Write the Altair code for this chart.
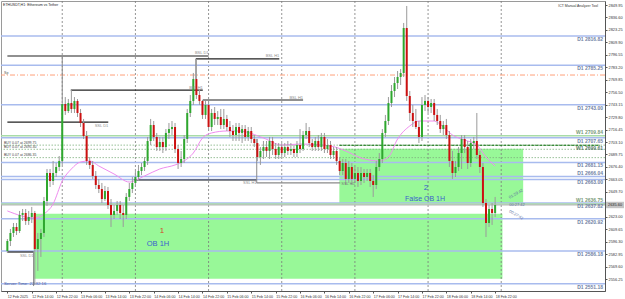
import json
import altair as alt
import pandas as pd

# ---------------- axis labels ----------------
y_ticks = [2849.95, 2836.60, 2823.25, 2809.90, 2796.55, 2783.20, 2769.85, 2756.50,
           2743.15, 2729.80, 2716.45, 2703.10, 2689.75, 2676.40, 2663.05, 2649.70,
           2636.35, 2623.00, 2609.65, 2596.30, 2582.95, 2569.60, 2556.25]
x_labels = ["12 Feb 2025", "12 Feb 14:00", "12 Feb 22:00", "13 Feb 06:00", "13 Feb 14:00",
            "13 Feb 22:00", "14 Feb 06:00", "14 Feb 14:00", "14 Feb 22:00", "15 Feb 06:00",
            "15 Feb 14:00", "15 Feb 22:00", "16 Feb 06:00", "16 Feb 14:00", "16 Feb 22:00",
            "17 Feb 06:00", "17 Feb 14:00", "17 Feb 22:00", "18 Feb 06:00", "18 Feb 14:00",
            "18 Feb 22:00"]
x_label_hours = [0, 8, 16, 24, 32, 40, 48, 56, 64, 72, 80, 88, 96, 104, 112, 120, 128,
                 136, 144, 152, 160]
day_breaks = [18, 42, 66, 90, 114, 138, 162]

# ---------------- H1 candles (hour index 0 = 12 Feb 06:00) ----------------
opens = [2586.3, 2597.0, 2605.6, 2612.0, 2607.7, 2624.9, 2627.0, 2618.4, 2622.7, 2627.0,
         2588.4, 2599.1, 2605.6, 2639.9, 2669.9, 2661.3, 2669.9, 2676.3, 2682.8, 2743.8,
         2736.3, 2744.9, 2738.5, 2747.1, 2734.2, 2723.5, 2709.5, 2682.8, 2678.5, 2666.7,
         2657.0, 2652.7, 2642.0, 2650.6, 2635.6, 2624.9, 2629.2, 2635.6, 2627.0, 2624.9,
         2644.2, 2652.7, 2659.2, 2665.6, 2672.0, 2676.3, 2682.8, 2704.2, 2721.3, 2708.5,
         2697.7, 2703.1, 2697.7, 2712.8, 2717.0, 2719.2, 2695.6, 2680.6, 2684.9, 2706.3,
         2734.2, 2747.1, 2770.6, 2753.5, 2747.1, 2732.1, 2742.8, 2719.2, 2734.2, 2727.8,
         2729.9, 2721.3, 2727.8, 2719.2, 2714.9, 2710.6, 2719.2, 2712.8, 2717.0, 2708.5,
         2714.9, 2706.3, 2702.0, 2687.0, 2693.5, 2697.7, 2693.5, 2704.2, 2695.6, 2689.2,
         2697.7, 2691.3, 2697.7, 2693.5, 2695.6, 2691.3, 2699.9, 2695.6, 2710.6, 2714.9,
         2702.0, 2697.7, 2704.2, 2697.7, 2708.5, 2695.6, 2699.9, 2689.2, 2693.5, 2682.8,
         2672.0, 2680.6, 2663.5, 2676.3, 2663.5, 2669.9, 2661.3, 2669.9, 2665.6, 2669.9,
         2661.3, 2657.0, 2676.3, 2684.9, 2712.8, 2725.6, 2744.9, 2757.8, 2766.3, 2772.8,
         2777.1, 2825.3, 2752.4, 2734.2, 2725.6, 2719.2, 2708.5, 2742.8, 2747.1, 2740.6,
         2744.9, 2732.1, 2725.6, 2717.0, 2721.3, 2710.6, 2682.8, 2669.9, 2676.3, 2691.3,
         2706.3, 2697.7, 2680.6, 2702.0, 2704.2, 2689.2, 2676.3, 2637.7, 2616.3, 2631.3,
         2627.0]
highs = [2599.1, 2609.9, 2616.3, 2616.3, 2629.2, 2631.3, 2631.3, 2629.2, 2633.5, 2629.2,
         2605.6, 2609.9, 2644.2, 2674.2, 2674.2, 2682.8, 2680.6, 2688.1, 2747.1, 2751.3,
         2749.2, 2758.8, 2751.3, 2749.2, 2738.5, 2727.8, 2714.9, 2687.0, 2682.8, 2672.0,
         2663.5, 2659.2, 2656.0, 2654.9, 2642.0, 2635.6, 2639.9, 2639.9, 2635.6, 2648.4,
         2659.2, 2665.6, 2672.0, 2678.5, 2680.6, 2687.0, 2708.5, 2727.8, 2725.6, 2712.8,
         2708.5, 2708.5, 2717.0, 2723.5, 2725.6, 2723.5, 2699.9, 2693.5, 2710.6, 2738.5,
         2753.5, 2777.1, 2792.1, 2759.9, 2748.1, 2747.1, 2747.1, 2738.5, 2740.6, 2736.3,
         2738.5, 2738.5, 2732.1, 2725.6, 2721.3, 2723.5, 2723.5, 2721.3, 2721.3, 2719.2,
         2719.2, 2710.6, 2706.3, 2697.7, 2704.2, 2704.2, 2708.5, 2708.5, 2702.0, 2702.0,
         2702.0, 2702.0, 2704.2, 2702.0, 2699.9, 2704.2, 2717.0, 2714.9, 2723.5, 2719.2,
         2706.3, 2708.5, 2710.6, 2712.8, 2712.8, 2706.3, 2704.2, 2697.7, 2697.7, 2687.0,
         2684.9, 2684.9, 2682.8, 2680.6, 2676.3, 2676.3, 2676.3, 2674.2, 2674.2, 2674.2,
         2667.7, 2682.8, 2691.3, 2717.0, 2732.1, 2751.3, 2764.2, 2772.8, 2779.2, 2781.3,
         2830.7, 2848.9, 2757.8, 2742.8, 2738.5, 2725.6, 2751.3, 2753.5, 2751.3, 2749.2,
         2749.2, 2738.5, 2732.1, 2725.6, 2727.8, 2714.9, 2693.5, 2682.8, 2697.7, 2710.6,
         2710.6, 2704.2, 2706.3, 2708.5, 2734.2, 2693.5, 2680.6, 2642.0, 2635.6, 2637.7,
         2644.2]
lows = [2584.1, 2591.6, 2601.3, 2603.4, 2605.6, 2618.4, 2614.2, 2614.2, 2616.3, 2549.8,
        2564.9, 2579.9, 2601.3, 2634.5, 2654.9, 2657.0, 2665.6, 2672.0, 2678.5, 2732.1,
        2734.2, 2734.2, 2734.2, 2729.9, 2719.2, 2706.3, 2678.5, 2674.2, 2663.5, 2652.7,
        2648.4, 2637.7, 2639.9, 2631.3, 2612.0, 2620.6, 2624.9, 2620.6, 2612.0, 2620.6,
        2639.9, 2648.4, 2654.9, 2661.3, 2667.7, 2672.0, 2678.5, 2699.9, 2704.2, 2693.5,
        2693.5, 2691.3, 2693.5, 2706.3, 2710.6, 2691.3, 2674.2, 2676.3, 2680.6, 2702.0,
        2729.9, 2742.8, 2749.2, 2742.8, 2727.8, 2727.8, 2714.9, 2714.9, 2721.3, 2721.3,
        2717.0, 2717.0, 2714.9, 2708.5, 2704.2, 2704.2, 2704.2, 2702.0, 2704.2, 2704.2,
        2702.0, 2697.7, 2682.8, 2678.5, 2684.9, 2687.0, 2684.9, 2689.2, 2684.9, 2684.9,
        2687.0, 2687.0, 2689.2, 2689.2, 2687.0, 2687.0, 2691.3, 2693.5, 2706.3, 2697.7,
        2693.5, 2693.5, 2693.5, 2693.5, 2691.3, 2691.3, 2684.9, 2684.9, 2678.5, 2667.7,
        2667.7, 2657.0, 2659.2, 2657.0, 2659.2, 2654.9, 2657.0, 2659.2, 2661.3, 2654.9,
        2644.2, 2652.7, 2672.0, 2680.6, 2708.5, 2721.3, 2740.6, 2751.3, 2759.9, 2764.2,
        2772.8, 2747.1, 2725.6, 2719.2, 2717.0, 2702.0, 2704.2, 2736.3, 2734.2, 2734.2,
        2725.6, 2721.3, 2712.8, 2710.6, 2706.3, 2676.3, 2663.5, 2665.6, 2672.0, 2674.2,
        2691.3, 2674.2, 2676.3, 2695.6, 2684.9, 2669.9, 2633.5, 2601.3, 2612.0, 2614.2,
        2622.7]
closes = [2597.0, 2605.6, 2612.0, 2607.7, 2624.9, 2627.0, 2618.4, 2622.7, 2627.0, 2588.4,
          2599.1, 2605.6, 2639.9, 2669.9, 2661.3, 2669.9, 2676.3, 2682.8, 2743.8, 2736.3,
          2744.9, 2738.5, 2747.1, 2734.2, 2723.5, 2709.5, 2682.8, 2678.5, 2666.7, 2657.0,
          2652.7, 2642.0, 2650.6, 2635.6, 2624.9, 2629.2, 2635.6, 2627.0, 2624.9, 2644.2,
          2652.7, 2659.2, 2665.6, 2672.0, 2676.3, 2682.8, 2704.2, 2721.3, 2708.5, 2697.7,
          2703.1, 2697.7, 2712.8, 2717.0, 2719.2, 2695.6, 2680.6, 2684.9, 2706.3, 2734.2,
          2747.1, 2770.6, 2753.5, 2747.1, 2732.1, 2742.8, 2719.2, 2734.2, 2727.8, 2729.9,
          2721.3, 2727.8, 2719.2, 2714.9, 2710.6, 2719.2, 2712.8, 2717.0, 2708.5, 2714.9,
          2706.3, 2702.0, 2687.0, 2693.5, 2697.7, 2693.5, 2704.2, 2695.6, 2689.2, 2697.7,
          2691.3, 2697.7, 2693.5, 2695.6, 2691.3, 2699.9, 2695.6, 2710.6, 2714.9, 2702.0,
          2697.7, 2704.2, 2697.7, 2708.5, 2695.6, 2699.9, 2689.2, 2693.5, 2682.8, 2672.0,
          2680.6, 2663.5, 2676.3, 2663.5, 2669.9, 2661.3, 2669.9, 2665.6, 2669.9, 2661.3,
          2657.0, 2676.3, 2684.9, 2712.8, 2725.6, 2744.9, 2757.8, 2766.3, 2772.8, 2777.1,
          2825.3, 2752.4, 2734.2, 2725.6, 2719.2, 2708.5, 2742.8, 2747.1, 2740.6, 2744.9,
          2732.1, 2725.6, 2717.0, 2721.3, 2710.6, 2682.8, 2669.9, 2676.3, 2691.3, 2706.3,
          2697.7, 2680.6, 2702.0, 2704.2, 2689.2, 2676.3, 2637.7, 2616.3, 2631.3, 2627.0,
          2635.6]

# ---------------- moving average (read at sample bars) ----------------
ma_hours = [0, 9, 12, 15, 18, 21, 24, 27, 30, 35, 40, 45, 50, 55, 58, 61, 64, 67, 72, 76,
            84, 90, 96, 106, 111, 116, 122, 125, 128, 132, 135, 140, 143, 146, 150, 154,
            157, 160]
ma_values = [2629.2, 2621.7, 2626.0, 2636.7, 2661.3, 2674.2, 2681.7, 2682.8, 2677.4,
             2668.8, 2660.2, 2666.7, 2674.2, 2678.5, 2682.8, 2691.3, 2707.4, 2712.8,
             2714.9, 2714.9, 2707.4, 2699.9, 2700.9, 2698.8, 2693.5, 2686.0, 2682.8,
             2687.0, 2706.3, 2720.3, 2725.6, 2725.6, 2719.2, 2710.6, 2705.2, 2699.9,
             2687.0, 2677.4]

# ---------------- levels ----------------
d1_prices = [2816.82, 2785.25, 2743.00, 2707.65, 2681.15, 2666.04, 2663.00, 2637.82,
             2620.92, 2586.18, 2551.18]
d1_names = ["D1 2816.82", "D1 2785.25", "D1 2743.00", "D1 2707.65", "D1 2681.15",
            "D1 2666.04", "D1 2663.00", "D1 2637.82", "D1 2620.92", "D1 2586.18",
            "D1 2551.18"]
d1_names_above = ["D1 2666.04"]
w1_light_prices = [2709.84, 2636.75]
w1_light_names = ["W1 2709.84", "W1 2636.75"]
w1_main_price = [2699.61]
w1_main_name = ["W1 2699.61"]
w1_main_start = [108.9]
w1_main_end = [194.4]
sp_price = [2774.9]
buy_prices = [2699.75, 2695.30, 2686.35]
buy_names = ["BUY 0.07 at 2699.75", "BUY 0.07 at 2695.30", "BUY 0.07 at 2686.35"]

# liquidity lines
liq_names = ["BSL D1", "BSL H1", "BSL H1", "BSL H1"]
liq_price = [2795.3, 2792.1, 2758.8, 2748.1]
liq_start = [0.0, 61.8, 20.8, 64.1]
liq_end = [66.0, 89.2, 64.1, 97.0]
ssl_names = ["SSL D1", "SSL H1", "SSL D1"]
ssl_price = [2724.5, 2662.4, 2585.2]
ssl_start = [0.0, 41.5, 0.0]
ssl_end = [33.1, 81.8, 8.6]
# grey sweep connectors
sweep_h_name = ["SSL H1"]
sweep_h_price = [2659.2]
sweep_h_start = [81.8]
sweep_h_end = [109.2]
sweep_v_hour = [81.8, 18.0, 8.6, 61.8]
sweep_v_top = [2706.3, 2795.3, 2585.2, 2792.1]
sweep_v_bot = [2659.2, 2747.1, 2548.7, 2770.6]

# order blocks
ob_start = [8.6, 108.9]
ob_end = [162.4, 169.2]
ob_top = [2626.2, 2695.9]
ob_bottom = [2556.6, 2637.7]

bid_price = [2635.6]
bid_text = ["2635.60"]

# ---------------- frames ----------------
candles = pd.DataFrame({"h": list(range(len(closes))), "o": opens, "hi": highs,
                        "lo": lows, "c": closes})
ma = pd.DataFrame({"h": ma_hours, "v": ma_values})
d1 = pd.DataFrame({"p": d1_prices, "t": d1_names})
d1_below = d1[~d1["t"].isin(d1_names_above)]
d1_above = d1[d1["t"].isin(d1_names_above)]
w1l = pd.DataFrame({"p": w1_light_prices, "t": w1_light_names})
w1m = pd.DataFrame({"p": w1_main_price, "t": w1_main_name, "a": w1_main_start, "b": w1_main_end})
buy = pd.DataFrame({"p": buy_prices, "t": buy_names})
bsl = pd.DataFrame({"t": liq_names, "p": liq_price, "a": liq_start, "b": liq_end})
ssl = pd.DataFrame({"t": ssl_names, "p": ssl_price, "a": ssl_start, "b": ssl_end})
swh = pd.DataFrame({"t": sweep_h_name, "p": sweep_h_price, "a": sweep_h_start, "b": sweep_h_end})
swv = pd.DataFrame({"h": sweep_v_hour, "p1": sweep_v_top, "p2": sweep_v_bot})
obs = pd.DataFrame({"a": ob_start, "b": ob_end, "t": ob_top, "bt": ob_bottom})
days = pd.DataFrame({"h": day_breaks})
bid = pd.DataFrame({"p": bid_price, "t": bid_text})
sp = pd.DataFrame({"p": sp_price})

FONT = "Liberation Sans"
W, H = 604, 290
xs = alt.Scale(domain=[-0.45, 194.4], nice=False, zero=False)
ys = alt.Scale(domain=[2543.4, 2854.24], nice=False, zero=False)
label_expr = json.dumps(x_labels) + "[round(datum.value/8)]"
xaxis = alt.Axis(values=x_label_hours, labelExpr=label_expr, title=None, grid=False,
                 labelFontSize=3.6, labelAlign="left", labelPadding=1, tickSize=2,
                 labelColor="#333333", domainColor="#555555", tickColor="#555555",
                 labelFlush=False, labelOverlap=False, labelBaseline="top", labelFont=FONT)
yaxis = alt.Axis(values=y_ticks, format=".2f", title=None, grid=False, orient="right",
                 labelFontSize=3.9, labelPadding=1, tickSize=2, labelColor="#333333",
                 domainColor="#555555", tickColor="#555555", labelFlush=False,
                 labelOverlap=False, labelFont=FONT)


def X(f):
    return alt.X(f, type="quantitative", scale=xs, axis=xaxis)


def Y(f):
    return alt.Y(f, type="quantitative", scale=ys, axis=yaxis)


layers = []
# order blocks
layers.append(alt.Chart(obs).mark_rect(color="#98f898").encode(
    x=X("a"), x2="b", y=Y("t"), y2="bt"))
# day separators
layers.append(alt.Chart(days).mark_rule(color="#7a7a7a", strokeDash=[2, 2], strokeWidth=0.8)
              .encode(x=X("h")))
# D1 levels
layers.append(alt.Chart(d1).mark_rule(color="#a8bbee", strokeWidth=1.5).encode(y=Y("p")))
layers.append(alt.Chart(w1l).mark_rule(color="#a8dca8", strokeWidth=1.5).encode(y=Y("p")))
# sp line
layers.append(alt.Chart(sp).mark_rule(color="#ffa07a", strokeWidth=1, strokeDash=[5, 2, 1, 2])
              .encode(y=Y("p")))
# buy lines
layers.append(alt.Chart(buy).mark_rule(color="#7fb07f", strokeWidth=0.8, strokeDash=[1.5, 1.5])
              .encode(y=Y("p")))
# W1 main
layers.append(alt.Chart(w1m).mark_rule(color="#0a6e0a", strokeWidth=1.2, strokeDash=[3, 1])
              .encode(x=X("a"), x2="b", y=Y("p")))
# bid line
layers.append(alt.Chart(bid).mark_rule(color="#b0b0b0", strokeWidth=1).encode(y=Y("p")))
# liquidity lines
layers.append(alt.Chart(bsl).mark_rule(color="#222222", strokeWidth=1.2)
              .encode(x=X("a"), x2="b", y=Y("p")))
layers.append(alt.Chart(ssl).mark_rule(color="#222222", strokeWidth=1.2)
              .encode(x=X("a"), x2="b", y=Y("p")))
layers.append(alt.Chart(swh).mark_rule(color="#8a8a8a", strokeWidth=1.2)
              .encode(x=X("a"), x2="b", y=Y("p")))
layers.append(alt.Chart(swv).mark_rule(color="#8a8a8a", strokeWidth=1)
              .encode(x=X("h"), y=Y("p1"), y2="p2"))
# MA
layers.append(alt.Chart(ma).mark_line(color="#ef8cef", strokeWidth=1, interpolate="monotone")
              .encode(x=X("h"), y=Y("v")))
# candles
layers.append(alt.Chart(candles).mark_rule(color="#9a9a9a", strokeWidth=1)
              .encode(x=X("h"), y=Y("lo"), y2="hi"))
layers.append(alt.Chart(candles).mark_bar(size=2).encode(
    x=X("h"), y=Y("o"), y2="c",
    color=alt.condition("datum.c >= datum.o", alt.value("#2ea82e"), alt.value("#cc1010"))))

# labels
lvl_style = dict(align="right", fontSize=5, fontWeight="bold", font=FONT)
layers.append(alt.Chart(d1_below).mark_text(baseline="top", dy=1, color="#7282a4", **lvl_style)
              .encode(x=alt.value(602), y=Y("p"), text="t"))
layers.append(alt.Chart(d1_above).mark_text(baseline="bottom", dy=-0.6, color="#7282a4",
                                             **lvl_style)
              .encode(x=alt.value(602), y=Y("p"), text="t"))
layers.append(alt.Chart(w1l).mark_text(baseline="bottom", dy=-0.6, color="#7a9a7a", **lvl_style)
              .encode(x=alt.value(602), y=Y("p"), text="t"))
layers.append(alt.Chart(w1m).mark_text(baseline="top", dy=1, color="#5a7a6a", **lvl_style)
              .encode(x=alt.value(602), y=Y("p"), text="t"))
layers.append(alt.Chart(buy).mark_text(align="left", baseline="bottom", dy=-0.3, fontSize=3.5,
                                        color="#444444", font=FONT)
              .encode(x=alt.value(3), y=Y("p"), text="t"))
layers.append(alt.Chart(bsl).mark_text(align="right", baseline="bottom", dy=-0.5, fontSize=4,
                                        color="#8d8d8d", font=FONT)
              .encode(x=X("b"), y=Y("p"), text="t"))
layers.append(alt.Chart(ssl).mark_text(align="right", baseline="top", dy=1.5, fontSize=4,
                                        color="#8d8d8d", font=FONT)
              .encode(x=X("b"), y=Y("p"), text="t"))
layers.append(alt.Chart(swh).mark_text(align="left", baseline="top", dy=-1, dx=1, fontSize=4,
                                        color="#777777", font=FONT)
              .encode(x=X("b"), y=Y("p"), text="t"))
layers.append(alt.Chart(sp).mark_text(align="left", baseline="bottom", dy=-0.5, fontSize=3.6,
                                       color="#555555", font=FONT)
              .encode(x=alt.value(3), y=Y("p"), text=alt.value("Sp")))

# bid tag on the axis
layers.append(alt.Chart(bid).mark_rect(color="#c4c4c4", yOffset=-3.2, y2Offset=3.2)
              .encode(x=alt.value(605), x2=alt.value(623), y=Y("p"), y2="p"))
layers.append(alt.Chart(bid).mark_text(align="left", baseline="middle", fontSize=3.9,
                                        color="#222222", font=FONT)
              .encode(x=alt.value(607), y=Y("p"), text="t"))


def note(txt, x, y, size, color, **kw):
    return alt.Chart(pd.DataFrame({"t": [txt]})).mark_text(
        fontSize=size, color=color, font=FONT, **kw).encode(
        x=alt.value(x), y=alt.value(y), text="t")


layers += [
    note("ETHUSDT,H1:  Ethereum vs Tether", 2, 4, 3.6, "#222222", align="left"),
    note("ICT Manual Analyzer Tool", 597, 5, 3.5, "#333333", align="right"),
    note("Server Time: 22:32:16", 3, 283, 4.3, "#4a5a9a", align="left"),
    note("1", 161, 230, 8, "#d04a2a", align="center"),
    note("OB 1H", 157, 243, 7.5, "#3a5fcd", align="center"),
    note("2", 425, 187, 8, "#3a5fcd", align="center"),
    note("False OB 1H", 424, 198, 7, "#3a5fcd", align="center"),
    note("01:29:42", 515, 193, 4, "#6070a0", align="center", angle=330),
    note("00:27:42", 516, 204, 4, "#6070a0", align="center"),
    note("00:27:42", 515, 214, 4, "#6070a0", align="center", angle=30),
]

chart = alt.layer(*layers).properties(width=W, height=H, padding=0).configure_view(
    stroke="#9a9a9a", strokeWidth=1).configure_axis(grid=False)

chart.save("out.html", embed_options={"renderer": "svg", "actions": False})
